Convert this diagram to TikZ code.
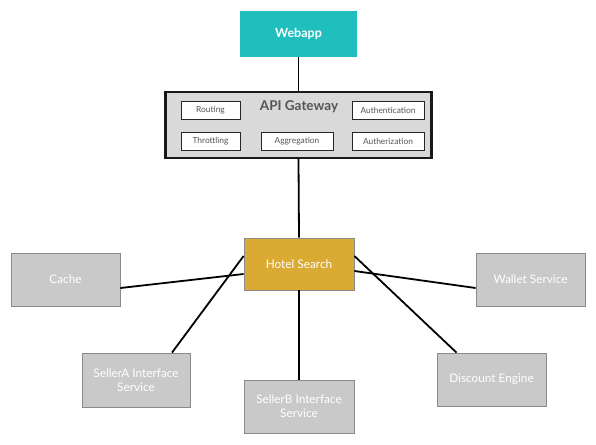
\documentclass[tikz,border=0pt]{standalone}
\usepackage{fontspec}
\setmainfont{Lato}
\definecolor{teal1}{HTML}{20BFBE}
\definecolor{gold1}{HTML}{DAAA33}
\definecolor{gray1}{HTML}{C9C9C9}
\definecolor{gray2}{HTML}{D9D9D9}
\definecolor{edge1}{HTML}{8A8A8A}
\definecolor{txt1}{HTML}{555555}
\begin{document}
\begin{tikzpicture}[x=1pt,y=-1pt,
  box/.style={draw=edge1,line width=0.8pt,fill=gray1,text=white,font=\fontsize{11.8}{14}\selectfont,align=center,inner sep=0pt},
  sub/.style={draw=black!85,line width=0.7pt,fill=white,text=txt1,font=\fontsize{8.4}{10}\selectfont,inner sep=0pt,minimum height=18pt},
  conn/.style={line width=1.8pt,black}]
\useasboundingbox (0,0) rectangle (596,444);
% Webapp
\node[fill=teal1,text=white,font=\fontsize{12.5}{14}\selectfont\bfseries,minimum width=117pt,minimum height=46pt,inner sep=0pt] (web) at (298.5,34) {Webapp};
% API gateway
\node[draw=black!90,line width=2.4pt,fill=gray2,minimum width=266pt,minimum height=66pt,inner sep=0pt] (gw) at (298.5,125) {};
\node[text=txt1,font=\fontsize{13.5}{15}\selectfont\bfseries] (gwt) at (299,107) {API Gateway};
\node[sub,minimum width=59pt] (routing) at (210.5,110) {Routing};
\node[sub,minimum width=72pt] (authn) at (388,110) {Authentication};
\node[sub,minimum width=59pt] (throt) at (210.5,141) {Throttling};
\node[sub,minimum width=72pt] (aggr) at (297,141) {Aggregation};
\node[sub,minimum width=72pt] (authz) at (388,141) {Autherization};
% Hotel search
\node[box,fill=gold1,minimum width=110pt,minimum height=52pt] (hotel) at (299,264) {Hotel Search};
% Others
\node[box,minimum width=109pt,minimum height=53pt] (cache) at (65.5,279.5) {Cache};
\node[box,minimum width=109pt,minimum height=53pt] (wallet) at (530.5,279.5) {Wallet Service};
\node[box,minimum width=108pt,minimum height=54pt] (sellera) at (136,380) {SellerA Interface\\Service};
\node[box,minimum width=110pt,minimum height=53pt] (sellerb) at (299,406.5) {SellerB Interface\\Service};
\node[box,minimum width=109pt,minimum height=53pt] (disc) at (491.5,379.5) {Discount Engine};
% Connectors
\draw[conn] (web.south) -- (gw.north);
\draw[conn] (gw.south) -- (hotel.north);
\draw[conn] ([yshift=-8.5pt]cache.east) -- ([yshift=-10pt]hotel.west);
\draw[conn] ([yshift=-7pt]hotel.east) -- ([yshift=-8.5pt]wallet.west);
\draw[conn] ([yshift=8pt]hotel.west) -- ([xshift=36pt]sellera.north);
\draw[conn] ([yshift=8pt]hotel.east) -- ([xshift=-35pt]disc.north);
\draw[conn] (hotel.south) -- (sellerb.north);
\end{tikzpicture}
\end{document}
